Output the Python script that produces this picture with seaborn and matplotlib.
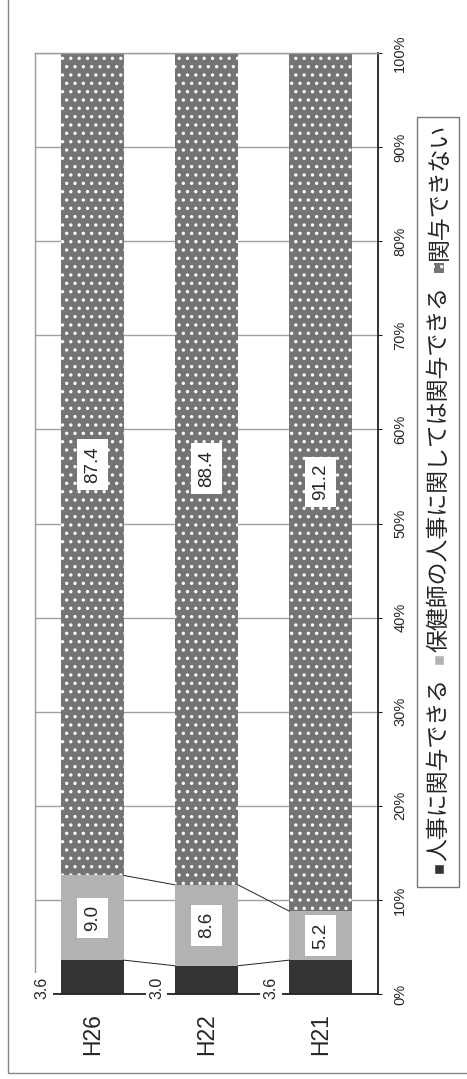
import numpy as np
import pandas as pd
import seaborn as sns
import matplotlib.pyplot as plt
from matplotlib.patches import Rectangle

# データ（左から H26, H22, H21）
categories = ["H26", "H22", "H21"]
dark_vals = [3.6, 3.0, 3.6]       # 人事に関与できる
light_vals = [9.0, 8.6, 5.2]      # 保健師の人事に関しては関与できる
dot_vals = [87.4, 88.4, 91.2]     # 関与できない
series_names = ["人事に関与できる", "保健師の人事に関しては関与できる", "関与できない"]
tick_values = [0, 10, 20, 30, 40, 50, 60, 70, 80, 90, 100]
tick_labels = ["0%", "10%", "20%", "30%", "40%", "50%", "60%", "70%", "80%", "90%", "100%"]

DARK = "#333333"
LIGHT = "#b2b2b2"
DOTS = "#747474"
W, H = 467, 1079

sns.set_style("white")
plt.rcParams['font.family'] = ['Liberation Sans', 'Noto Sans CJK JP']
plt.rcParams['hatch.color'] = 'white'
plt.rcParams['hatch.linewidth'] = 1.2

fig = plt.figure(figsize=(W / 100, H / 100), dpi=100)
ax = fig.add_axes([35 / W, 85 / H, 343 / W, 941 / H])

df = pd.DataFrame({"year": categories, "dark": dark_vals, "light": light_vals, "dot": dot_vals})
df["cum1"] = df["dark"]
df["cum2"] = df["dark"] + df["light"]
df["cum3"] = df["cum2"] + df["dot"]

# 累積値を大きい順に重ねて 100% 積み上げ棒を作る
sns.barplot(data=df, x="year", y="cum3", color=DOTS, width=0.55, saturation=1,
            errorbar=None, hatch="..", edgecolor="white", linewidth=0, ax=ax)
sns.barplot(data=df, x="year", y="cum2", color=LIGHT, width=0.55, saturation=1,
            errorbar=None, linewidth=0, ax=ax)
sns.barplot(data=df, x="year", y="cum1", color=DARK, width=0.55, saturation=1,
            errorbar=None, linewidth=0, ax=ax)

bars = list(ax.containers[0])

# 区分線
for cum in [df["cum1"].values, df["cum2"].values]:
    for i in range(len(bars) - 1):
        x0 = bars[i].get_x() + bars[i].get_width()
        x1 = bars[i + 1].get_x()
        ax.plot([x0, x1], [cum[i], cum[i + 1]], color="#222222", lw=0.7, zorder=3)

# 値ラベル
for i, b in enumerate(bars):
    xc = b.get_x() + b.get_width() / 2
    ax.text(xc, df["cum1"][i] + light_vals[i] / 2, f"{light_vals[i]:.1f}", rotation=90,
            ha="center", va="center", fontsize=13.5, zorder=5,
            bbox=dict(boxstyle="square,pad=0.38", fc="white", ec="none"))
    ax.text(xc, df["cum2"][i] + dot_vals[i] / 2, f"{dot_vals[i]:.1f}", rotation=90,
            ha="center", va="center", fontsize=13.5, zorder=5,
            bbox=dict(boxstyle="square,pad=0.38", fc="white", ec="none"))
    ax.text(b.get_x() - 0.16, 0.7, f"{dark_vals[i]:.1f}", rotation=90,
            ha="center", va="center", fontsize=11.5, zorder=5, clip_on=False,
            bbox=dict(boxstyle="square,pad=0.2", fc="white", ec="none"))

ax.set_xlim(-0.5, 2.5)
ax.set_ylim(0, 100)
ax.set_xlabel("")
ax.set_ylabel("")
ax.yaxis.tick_right()
ax.set_yticks(tick_values)
ax.set_yticklabels(tick_labels, rotation=90, va="center", fontsize=10.5)
ax.set_xticks(range(len(categories)))
ax.set_xticklabels(categories, rotation=90, fontsize=16.5)
ax.tick_params(axis="x", length=0, pad=14)
ax.tick_params(axis="y", length=3, color="#222222", pad=8, right=True)
ax.grid(axis="y", color="#a0a0a0", lw=1)
ax.set_axisbelow(True)
for s in ["left", "top"]:
    ax.spines[s].set_color("#999999")
    ax.spines[s].set_linewidth(1)
for s in ["right", "bottom"]:
    ax.spines[s].set_color("#222222")
    ax.spines[s].set_linewidth(1.3)

# 外枠
fig.patches.append(Rectangle((8 / W, 6 / H), 1.2, 1.2, transform=fig.transFigure,
                             fill=False, ec="#888888", lw=1))

# 凡例（縦書き方向に回転）
fig.patches.append(Rectangle((417 / W, 192 / H), 42 / W, 770 / H, transform=fig.transFigure,
                             fill=False, ec="#777777", lw=1))
renderer = fig.canvas.get_renderer()
xc = 439
y = 205
marker_styles = [dict(fc=DARK), dict(fc=LIGHT), dict(fc=DOTS, hatch="..", ec="white", lw=0)]
for k, name in enumerate(series_names):
    ms = 10
    fig.patches.append(Rectangle(((xc - ms / 2) / W, y / H), ms / W, ms / H,
                                 transform=fig.transFigure, **marker_styles[k]))
    y += ms + 3
    t = fig.text(xc / W, y / H, name, rotation=90, ha="center", va="bottom", fontsize=16.5)
    ext = t.get_window_extent(renderer=renderer)
    y = ext.y1 + 13

fig.savefig("out.png", dpi=100)
